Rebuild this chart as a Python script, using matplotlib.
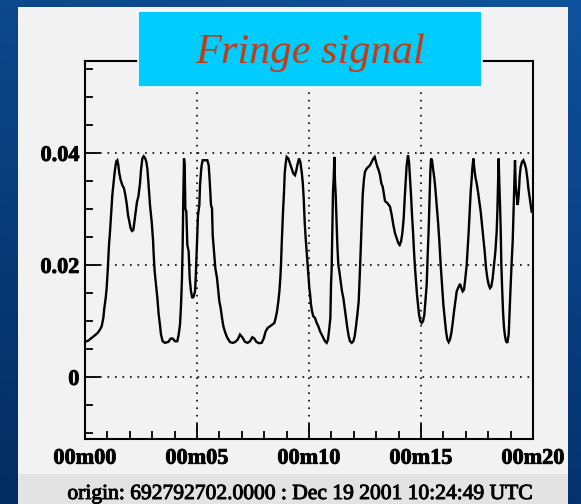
import numpy as np
import matplotlib
matplotlib.use('Agg')
import matplotlib.pyplot as plt
import matplotlib.patheffects as pe
from matplotlib.patches import Rectangle
from matplotlib.ticker import MultipleLocator, FixedLocator, FixedFormatter

# ---------------- data ----------------
time_s = [
    0, 8.9, 17.9, 26.8, 33.9, 40.2, 44.7, 49.1, 51.8, 55.4, 58.0, 60.7, 62.5, 64.3, 67.0, 69.7,
    71.4, 73.2, 75.9, 78.6, 81.3, 83.9, 86.6, 89.3, 92.0, 95.6, 100.0, 104.5, 108.1, 111.6, 115.2,
    118.8, 122.3, 125.9, 129.5, 132.2, 135.7, 139.3, 142.9, 147.3, 150.0, 153.6, 157.2, 160.7,
    164.3, 167.0, 169.7, 174.1, 178.6, 182.2, 184.0, 186.6, 190.2, 193.8, 197.4, 200.9,
    203.6, 208.0, 214.3, 223.2, 229.5, 234.8, 241.1, 247.3, 250.9, 254.5, 257.2, 259.8, 261.6,
    263.4, 265.2, 267.0, 268.8, 271.4, 274.1, 277.7, 280.4, 283.9, 287.5, 291.1, 294.7, 296.5,
    298.2, 300.0, 302.7, 306.3, 308.1, 310.7, 312.5, 315.2, 321.5, 327.7, 331.3, 333.9, 337.5,
    340.2, 342.0, 345.6, 349.1, 353.6, 357.2, 359.8, 363.4, 367.0, 370.6, 375.9, 381.3, 388.4,
    395.6, 401.8,
    409.0, 415.2, 421.4, 428.6, 435.7, 442.0, 448.2, 453.6, 459.0, 466.1, 473.2, 478.6, 484.0,
    489.3, 495.6, 501.8, 507.2, 510.7, 514.3, 517.9, 520.6, 523.2, 525.0, 526.8, 528.6, 530.4,
    533.1, 534.9, 537.5, 540.2, 544.7, 549.1, 553.6, 558.1, 562.5, 566.1, 569.7, 573.3, 576.8,
    580.4, 583.1, 585.8, 588.4, 591.1, 593.8, 596.5, 598.3, 600.9, 602.7,
    605.4, 608.1, 611.6, 616.1, 620.6, 625.0, 629.5, 634.0, 638.4, 642.9, 647.4, 650.9, 654.5,
    657.2, 659.0, 660.7, 662.5, 664.3, 666.1, 667.9, 669.7, 671.5, 673.2, 675.9, 678.6, 681.3,
    684.9, 688.4, 692.0, 695.6, 699.1, 702.7, 706.3, 709.9, 714.3, 718.8, 722.4, 725.9, 729.5,
    733.1, 736.7, 740.2, 743.8, 747.4, 750.0, 754.5, 759.0, 763.4, 767.9, 772.4, 775.9, 779.5,
    783.1, 786.7, 790.2, 793.8, 797.4, 801.0, 803.6,
    810.7, 817.0, 821.5, 825.9, 830.4, 834.9, 839.3, 842.9, 846.5, 850.0, 853.6, 856.3, 859.0,
    861.6, 863.4, 865.2, 867.9, 870.6, 873.3, 875.9, 878.6, 881.3, 884.0, 886.6, 889.3, 892.0,
    894.7, 898.3, 901.8, 905.4, 909.0, 912.5, 915.2, 917.9, 920.6, 923.3, 925.0, 926.8, 929.5,
    932.2, 935.8, 938.4, 942.0, 945.6, 949.2, 952.7, 956.3, 959.9, 963.4, 967.0, 970.6, 974.2,
    977.7, 981.3, 984.9, 988.5, 992.0, 995.6, 999.2, 1004.5,
    1008.1, 1011.6, 1015.2, 1018.8, 1022.4, 1025.0, 1027.7, 1030.4, 1033.1, 1035.8, 1037.5,
    1040.2, 1042.9, 1045.6, 1049.2, 1052.7, 1056.3, 1059.9, 1063.4, 1067.0, 1070.6, 1074.2,
    1077.7, 1081.3, 1084.9, 1088.4, 1092.0, 1095.6, 1099.2, 1102.7, 1104.5, 1106.3, 1108.1,
    1109.9, 1111.7, 1113.4, 1115.2, 1117.0, 1119.7, 1122.4, 1125.1, 1127.7, 1131.3, 1134.9,
    1137.6, 1140.2, 1142.9, 1145.6, 1148.3, 1150.1, 1151.8, 1153.6, 1156.3, 1159.0, 1161.7,
    1164.3, 1167.0, 1170.6, 1174.2, 1177.7, 1181.3, 1184.9, 1187.6, 1190.2, 1193.8, 1196.5,
]

signal = [
    0.00634, 0.00658, 0.00706, 0.00753, 0.00795, 0.00854, 0.00913, 0.01061, 0.01239, 0.01417,
    0.01595, 0.01892, 0.02129, 0.02366, 0.02603, 0.02900, 0.03078, 0.03255, 0.03433, 0.03611,
    0.03760, 0.03860, 0.03878, 0.03789, 0.03640, 0.03522, 0.03433, 0.03374, 0.03255, 0.03107,
    0.02900, 0.02781, 0.02662, 0.02615, 0.02633, 0.02769, 0.02959, 0.03137, 0.03226, 0.03463,
    0.03700, 0.03908, 0.03949, 0.03920, 0.03849, 0.03730, 0.03493, 0.03078, 0.02781, 0.02455,
    0.02188, 0.01892, 0.01654, 0.01417, 0.01121, 0.00930,
    0.00765, 0.00646, 0.00617, 0.00634, 0.00694, 0.00694, 0.00646, 0.00646, 0.00765, 0.00943,
    0.01299, 0.01773, 0.02366, 0.03255, 0.03908, 0.03789, 0.03018, 0.02959, 0.02366, 0.02247,
    0.01773, 0.01536, 0.01417, 0.01447, 0.01536, 0.01773, 0.02069, 0.02366, 0.02900, 0.03078,
    0.03433, 0.03671, 0.03789, 0.03878, 0.03878, 0.03878, 0.03789, 0.03522, 0.03078, 0.03018,
    0.02544, 0.02247, 0.01951, 0.01773, 0.01536, 0.01358, 0.01239, 0.01061, 0.00913, 0.00795,
    0.00706, 0.00630, 0.00617, 0.00630,
    0.00676, 0.00765, 0.00717, 0.00634, 0.00617, 0.00646, 0.00717, 0.00694, 0.00634, 0.00611,
    0.00617, 0.00694, 0.00824, 0.00883, 0.00913, 0.00943, 0.00972, 0.01061, 0.01180, 0.01358,
    0.01536, 0.01773, 0.02010, 0.02366, 0.02662, 0.02959, 0.03315, 0.03640, 0.03819, 0.03937,
    0.03908, 0.03819, 0.03730, 0.03640, 0.03611, 0.03700, 0.03819, 0.03908, 0.03849, 0.03671,
    0.03493, 0.03196, 0.02781, 0.02485, 0.02247, 0.02010, 0.01832, 0.01595, 0.01500,
    0.01299, 0.01180, 0.01091, 0.01061, 0.00972, 0.00913, 0.00824, 0.00765, 0.00706, 0.00646,
    0.00617, 0.00676, 0.00883, 0.01061, 0.01654, 0.01951, 0.02662, 0.03315, 0.03552, 0.03937,
    0.03493, 0.03255, 0.02900, 0.02366, 0.02010, 0.01892, 0.01714, 0.01536, 0.01417, 0.01239,
    0.01061, 0.00883, 0.00735, 0.00646, 0.00617, 0.00646, 0.00735, 0.00913, 0.01121, 0.01358,
    0.01951, 0.02603, 0.03255, 0.03552, 0.03671, 0.03730, 0.03760, 0.03789, 0.03849, 0.03908,
    0.03937, 0.03849, 0.03760, 0.03700, 0.03611, 0.03463, 0.03404, 0.03255, 0.03150,
    0.03107, 0.03048, 0.02900, 0.02722, 0.02574, 0.02485, 0.02396, 0.02366, 0.02425, 0.02574,
    0.02840, 0.03196, 0.03493, 0.03789, 0.03878, 0.03967, 0.03849, 0.03552, 0.03255, 0.02900,
    0.02603, 0.02247, 0.01951, 0.01714, 0.01476, 0.01299, 0.01121, 0.01002, 0.00972, 0.01002,
    0.01121, 0.01417, 0.01654, 0.02188, 0.02662, 0.03255, 0.03671, 0.03908, 0.03878, 0.03730,
    0.03552, 0.03374, 0.03078, 0.02781, 0.02425, 0.02010, 0.01654, 0.01299, 0.01061, 0.00824,
    0.00676, 0.00630, 0.00676, 0.00795, 0.00972, 0.01180, 0.01358, 0.01536, 0.01595, 0.01670,
    0.01595, 0.01536, 0.01565, 0.01773, 0.02010, 0.02307, 0.02603, 0.02959, 0.03315, 0.03552,
    0.03730, 0.03908, 0.03730, 0.03582, 0.03463, 0.03315, 0.03137, 0.02959, 0.02722, 0.02485,
    0.02247, 0.01951, 0.01773, 0.01654, 0.01595, 0.01625, 0.01773, 0.02010, 0.02247, 0.02603,
    0.02959, 0.03433, 0.03908, 0.03433, 0.03078, 0.02662, 0.02010, 0.01654, 0.01180, 0.00883,
    0.00735, 0.00646, 0.00617, 0.00765, 0.01239, 0.01654, 0.02069, 0.02425, 0.03078, 0.03552,
    0.03878, 0.03433, 0.03255, 0.03078, 0.03255, 0.03582, 0.03760, 0.03849, 0.03878, 0.03819,
    0.03730, 0.03552, 0.03374, 0.03255, 0.03078, 0.02959,
]

x_ticks_s = [0, 300, 600, 900, 1200]
x_tick_labels = ['00m00', '00m05', '00m10', '00m15', '00m20']
y_ticks = [0.0, 0.02, 0.04]
y_tick_labels = ['0', '0.02', '0.04']
title_text = 'Fringe signal'
origin_text = 'origin: 692792702.0000 : Dec 19 2001 10:24:49 UTC'

# ---------------- figure ----------------
W, H = 581, 504
fig = plt.figure(figsize=(W / 100, H / 100), dpi=100)

def fx(px):
    return px / W

def fy(py):
    return 1 - py / H

# blue gradient background
bg = fig.add_axes([0, 0, 1, 1], zorder=-10)
ny, nx = 120, 120
vv = np.linspace(0, 1, ny)[:, None]
uu = np.linspace(0, 1, nx)[None, :]
top = np.array([14, 82, 158]) / 255.0
bot = np.array([4, 50, 110]) / 255.0
col = top[None, None, :] * (1 - vv[..., None]) + bot[None, None, :] * vv[..., None]
col = col * (0.88 + 0.12 * uu[..., None])
bg.imshow(np.clip(col, 0, 1), extent=[0, 1, 0, 1], aspect='auto', origin='upper')
bg.set_axis_off()

# gray panel
fig.add_artist(Rectangle((fx(18), 0), fx(568) - fx(18), fy(7), transform=fig.transFigure,
                         facecolor='#f2f2f2', edgecolor='none', zorder=-5))
# bottom strip
fig.add_artist(Rectangle((fx(18), 0), fx(568) - fx(18), fy(474), transform=fig.transFigure,
                         facecolor='#e3e3e3', edgecolor='none', zorder=-4))

# main axes
ax = fig.add_axes([fx(85), fy(439), fx(533) - fx(85), fy(61) - fy(439)])
ax.set_facecolor('#f2f2f2')
ax.plot(time_s, signal, color='black', lw=1.7, solid_joinstyle='miter')
ax.set_xlim(0, 1200)
ax.set_ylim(-0.011, 0.0565)

for s in ax.spines.values():
    s.set_linewidth(1.5)
    s.set_color('black')

ax.xaxis.set_major_locator(FixedLocator(x_ticks_s))
ax.xaxis.set_major_formatter(FixedFormatter(x_tick_labels))
ax.xaxis.set_minor_locator(MultipleLocator(60))
ax.yaxis.set_major_locator(FixedLocator(y_ticks))
ax.yaxis.set_major_formatter(FixedFormatter(y_tick_labels))
ax.yaxis.set_minor_locator(MultipleLocator(0.005))

ax.tick_params(axis='both', which='major', direction='in', length=10.5, width=1.3,
               right=False, top=False, color='black')
ax.tick_params(axis='both', which='minor', direction='in', length=5.5, width=1.3,
               right=False, top=False, color='black')
ax.tick_params(axis='x', which='major', pad=7)
ax.tick_params(axis='y', which='major', pad=4)
for lab in ax.get_xticklabels() + ax.get_yticklabels():
    lab.set_fontfamily('Liberation Serif')
    lab.set_fontweight('bold')
    lab.set_fontsize(16)
    lab.set_path_effects([pe.withStroke(linewidth=0.6, foreground='black')])

ax.grid(True, which='major', color='black', linestyle=(0, (1, 3.5)), linewidth=1.2)

# title box
fig.add_artist(Rectangle((fx(138), fy(87)), fx(482) - fx(138), fy(11) - fy(87),
                         transform=fig.transFigure, facecolor='#00ccff', edgecolor='white',
                         linewidth=1.2, zorder=5))
fig.text(fx(310), fy(63), title_text, family='Liberation Serif', style='italic', size=30.5,
         color='#c43c16', ha='center', va='baseline', zorder=6)

# origin text
fig.text(fx(300), fy(499), origin_text, family='Liberation Serif', size=15.5,
         color='black', ha='center', va='baseline', zorder=6,
         path_effects=[pe.withStroke(linewidth=0.7, foreground='black')])

fig.savefig('out.png', dpi=100)
